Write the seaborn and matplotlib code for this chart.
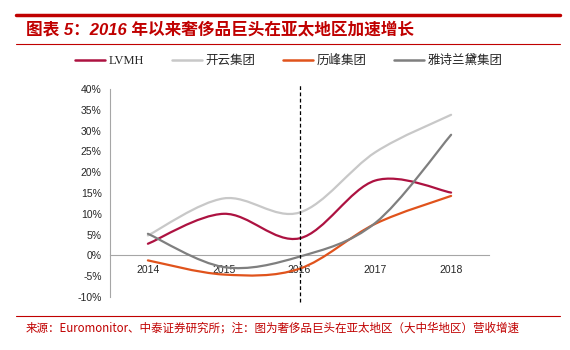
import matplotlib
matplotlib.use("Agg")
import matplotlib.pyplot as plt
import seaborn as sns
import numpy as np
import pandas as pd
from matplotlib.path import Path
from matplotlib.patches import PathPatch
from matplotlib.lines import Line2D

sns.set_style("white")
plt.rcParams['font.family'] = ['Liberation Sans', 'Noto Sans CJK SC', 'DejaVu Sans']
plt.rcParams['axes.unicode_minus'] = False

# 数据 (%)
years = ['2014', '2015', '2016', '2017', '2018']
lvmh = [2.8, 10.0, 4.1, 18.0, 15.1]
kering = [4.8, 13.7, 10.3, 24.8, 33.8]
richemont = [-1.2, -4.6, -3.2, 7.6, 14.3]
estee = [5.2, -2.8, -0.3, 7.8, 29.0]

series_names = ['LVMH', '开云集团', '历峰集团', '雅诗兰黛集团']
colors = ['#AD1241', '#C8C8C8', '#E0531C', '#7F7F7F']

df = pd.DataFrame({'year': years, 'LVMH': lvmh, '开云集团': kering,
                   '历峰集团': richemont, '雅诗兰黛集团': estee})

RED = '#C00000'


def smooth_path(xs, ys):
    """Excel 风格平滑线 (Bezier)"""
    pts = np.column_stack([xs, ys]).astype(float)
    n = len(pts)
    verts = [pts[0]]
    codes = [Path.MOVETO]
    for i in range(n - 1):
        p0 = pts[max(i - 1, 0)]
        p1 = pts[i]
        p2 = pts[i + 1]
        p3 = pts[min(i + 2, n - 1)]
        c1 = p1 + (p2 - p0) / 6
        c2 = p2 - (p3 - p1) / 6
        verts += [c1, c2, p2]
        codes += [Path.CURVE4] * 3
    return Path(verts, codes)


fig = plt.figure(figsize=(5.7, 3.5), dpi=100)
ax = fig.add_axes([110 / 570, 1 - 297 / 350, (489 - 110) / 570, (297 - 89) / 350])

xpos = np.arange(len(years))
handles = []
for name, col in zip(series_names, colors):
    patch = PathPatch(smooth_path(xpos, df[name].values), facecolor='none',
                      edgecolor=col, lw=1.6, capstyle='round', zorder=3)
    ax.add_patch(patch)
    handles.append(Line2D([], [], color=col, lw=1.8))

ax.set_xlim(-0.5, len(years) - 0.5)
ax.set_ylim(-10, 40)
ax.set_yticks(np.arange(-10, 41, 5))
ax.set_yticklabels([f'{v}%' for v in range(-10, 41, 5)], fontsize=7.5)

# x 轴在 0% 处
sns.despine(ax=ax, top=True, right=True)
ax.spines['bottom'].set_position(('data', 0))
ax.spines['bottom'].set_color('#A6A6A6')
ax.spines['left'].set_color('#A6A6A6')
ax.set_xticks(xpos)
ax.set_xticklabels(years, fontsize=7.5)
ax.set_xticks(np.arange(-0.5, len(years), 1), minor=True)
ax.tick_params(axis='x', which='major', length=0, pad=7)
ax.tick_params(axis='x', which='minor', length=3, direction='out', color='#A6A6A6')
ax.tick_params(axis='y', length=3, direction='out', color='#A6A6A6', pad=3)
ax.grid(False)

# 2016 分界虚线
ax.axvline(2, ymin=-0.025, ymax=1.02, color='black', lw=0.9, ls=(0, (3, 2)),
           clip_on=False, zorder=4)

fig.legend(handles, series_names, loc='center', bbox_to_anchor=(0.507, 1 - 61 / 350),
           ncol=4, frameon=False, handlelength=2.4, columnspacing=2.2, handletextpad=0.3,
           prop={'family': ['Liberation Serif', 'Noto Sans CJK SC'], 'size': 9})

# 标题与来源
fig.add_artist(Line2D([16 / 570, 560 / 570], [1 - 15 / 350] * 2, color=RED, lw=2.5))
fig.add_artist(Line2D([16 / 570, 560 / 570], [1 - 44 / 350] * 2, color=RED, lw=0.8))
fig.text(26 / 570, 1 - 30 / 350, '图表 5：2016 年以来奢侈品巨头在亚太地区加速增长',
         color=RED, fontsize=12, fontweight='bold', fontstyle='italic', va='center', ha='left')
fig.add_artist(Line2D([16 / 570, 560 / 570], [1 - 315.5 / 350] * 2, color=RED, lw=0.8))
fig.text(26 / 570, 1 - 328 / 350,
         '来源：Euromonitor、中泰证券研究所；注：图为奢侈品巨头在亚太地区（大中华地区）营收增速',
         color=RED, fontsize=8.3, va='center', ha='left',
         family=['Noto Sans CJK SC', 'DejaVu Sans'])

fig.savefig('out.png', dpi=100)
plt.close(fig)
